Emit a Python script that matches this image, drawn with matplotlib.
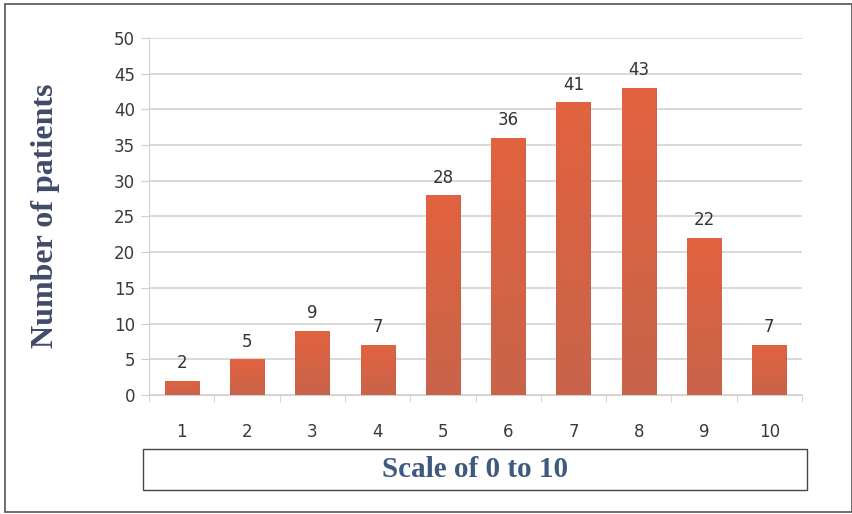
import matplotlib.pyplot as plt
from matplotlib.patches import Rectangle
from matplotlib.colors import LinearSegmentedColormap
import numpy as np

scores = ['1', '2', '3', '4', '5', '6', '7', '8', '9', '10']
patients = [2, 5, 9, 7, 28, 36, 41, 43, 22, 7]
yticks = [0, 5, 10, 15, 20, 25, 30, 35, 40, 45, 50]

fig = plt.figure(figsize=(8.53, 5.14), dpi=100)
ax = fig.add_axes([0.1747, 0.2315, 0.7655, 0.6946])

x = np.arange(len(scores))
bars = ax.bar(x, patients, width=0.52, color='#dc6245', edgecolor='#c0563c', linewidth=0.6, zorder=3)

# vertical gradient on each bar
grad = np.linspace(0, 1, 100).reshape(-1, 1)
cmap = LinearSegmentedColormap.from_list('bar', ['#c8644a', '#e2623f'])
for b in bars:
    im = ax.imshow(grad, cmap=cmap, aspect='auto', origin='lower',
                   extent=[b.get_x(), b.get_x() + b.get_width(), 0, b.get_height()], zorder=3)
    im.set_clip_path(b)

for xi, v in zip(x, patients):
    ax.text(xi, v + 1.2, str(v), ha='center', va='bottom', fontsize=12, color='#333333', zorder=4)

ax.set_xlim(-0.5, len(scores) - 0.5)
ax.set_ylim(0, 50)
ax.set_yticks(yticks)
ax.set_xticks(x)
ax.set_xticklabels(scores)
ax.set_xticks(np.arange(-0.5, len(scores)), minor=True)
ax.tick_params(axis='x', which='major', length=0, pad=20, labelsize=12, labelcolor='#3a3a3a')
ax.tick_params(axis='x', which='minor', length=5, color='#d0cbc8', direction='out')
ax.tick_params(axis='y', length=6, color='#d0cbc8', labelsize=12, labelcolor='#3a3a3a', pad=4)
ax.grid(axis='y', color='#d8d2ce', linewidth=1.2, zorder=0)
for s in ['top', 'right']:
    ax.spines[s].set_visible(False)
ax.spines['left'].set_color('#d8d2ce')
ax.spines['bottom'].set_color('#d8d2ce')

fig.text(0.053, 0.58, 'Number of patients', rotation=90, ha='center', va='center',
         fontsize=23, fontweight='bold', family='Liberation Serif', color='#414a68')

# x label box
fig.patches.append(Rectangle((0.1676, 0.0467), 0.778, 0.0798, transform=fig.transFigure,
                             fill=False, edgecolor='#444444', linewidth=1))
fig.text(0.1676 + 0.778 / 2, 0.0467 + 0.0798 / 2, 'Scale of 0 to 10', ha='center', va='center',
         fontsize=21, fontweight='bold', family='Liberation Serif', color='#3e5a80')

# outer frame
fig.patches.append(Rectangle((0.006, 0.004), 0.993, 0.988, transform=fig.transFigure,
                             fill=False, edgecolor='#555555', linewidth=1.2))

fig.savefig('out.png', dpi=100)
